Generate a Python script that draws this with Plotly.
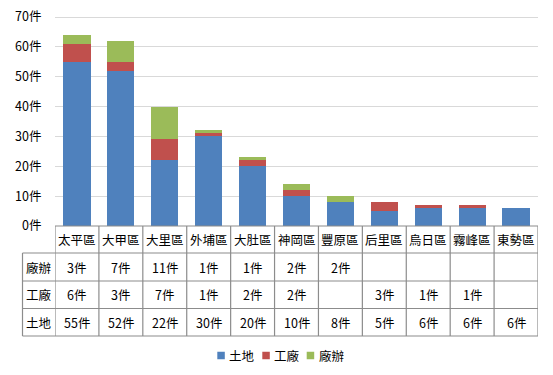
import plotly.graph_objects as go

categories = ["太平區", "大甲區", "大里區", "外埔區", "大肚區", "神岡區", "豐原區", "后里區", "烏日區", "霧峰區", "東勢區"]
land = [55, 52, 22, 30, 20, 10, 8, 5, 6, 6, 6]       # 土地
factory = [6, 3, 7, 1, 2, 2, 0, 3, 1, 1, 0]          # 工廠
office = [3, 7, 11, 1, 1, 2, 2, 0, 0, 0, 0]          # 廠辦
series_names = ["土地", "工廠", "廠辦"]
colors = ["#4F81BD", "#C0504D", "#9BBB59"]

FONT = "Noto Sans CJK TC, Microsoft JhengHei, sans-serif"
W, H = 553, 375
ML, MR, MT, MB = 55, 15, 16, 149
PW = W - ML - MR
PH = H - MT - MB
BASE = H - MB  # pixel y of zero line
YMAX = 70.35


def py(p):
    return (BASE - p) / PH


def px(p):
    return (p - ML) / PW


fig = go.Figure()
for name, vals, col in zip(series_names, [land, factory, office], colors):
    fig.add_trace(go.Bar(
        x=categories, y=vals, name=name, marker=dict(color=col, line=dict(width=0)),
        width=0.62, hoverinfo="x+y+name",
    ))

line_col = "#8C8C8C"
shapes = []
row_edges = [226, 253, 281, 308.5, 336]
left_edge = 22.5
# horizontal lines
shapes.append(dict(type="line", xref="paper", yref="paper", x0=0, x1=1,
                   y0=py(row_edges[0]), y1=py(row_edges[0]), line=dict(color=line_col, width=1.2)))
for r in row_edges[1:]:
    shapes.append(dict(type="line", xref="paper", yref="paper", x0=px(left_edge), x1=1,
                       y0=py(r), y1=py(r), line=dict(color=line_col, width=1.2)))
# vertical lines at category boundaries
n = len(categories)
for i in range(n + 1):
    shapes.append(dict(type="line", xref="x", yref="paper", x0=i - 0.5, x1=i - 0.5,
                       y0=py(row_edges[0]), y1=py(row_edges[-1]), line=dict(color=line_col, width=1.2)))
shapes.append(dict(type="line", xref="paper", yref="paper", x0=px(left_edge), x1=px(left_edge),
                   y0=py(row_edges[1]), y1=py(row_edges[-1]), line=dict(color=line_col, width=1.2)))

annotations = []
txt_font = dict(family=FONT, size=12.5, color="#000000")
row_centers = [(row_edges[i] + row_edges[i + 1]) / 2 for i in range(4)]
for c in categories:
    annotations.append(dict(x=c, xref="x", y=py(row_centers[0]), yref="paper", text=c,
                            showarrow=False, font=txt_font, xanchor="center", yanchor="middle"))
table_rows = [("廠辦", office), ("工廠", factory), ("土地", land)]
for ri, (lab, vals) in enumerate(table_rows):
    yc = py(row_centers[ri + 1])
    annotations.append(dict(x=px((left_edge + ML) / 2), xref="paper", y=yc, yref="paper", text=lab,
                            showarrow=False, font=txt_font, xanchor="center", yanchor="middle"))
    for c, v in zip(categories, vals):
        if v:
            annotations.append(dict(x=c, xref="x", y=yc, yref="paper", text=f"{v}件",
                                    showarrow=False, font=txt_font, xanchor="center", yanchor="middle"))

# legend (custom, to match compact spacing of the original)
leg_x0 = [217.3, 262.3, 306.7]
leg_y = 355.5
sq = 7.5
for name, col, lx in zip(series_names, colors, leg_x0):
    shapes.append(dict(type="rect", xref="paper", yref="paper", x0=px(lx), x1=px(lx + sq),
                       y0=py(leg_y + sq / 2), y1=py(leg_y - sq / 2),
                       fillcolor=col, line=dict(width=0)))
    annotations.append(dict(x=px(lx + sq + 2.5), xref="paper", y=py(leg_y), yref="paper", text=name,
                            showarrow=False, font=txt_font, xanchor="left", yanchor="middle"))

fig.update_layout(
    barmode="stack",
    width=W, height=H,
    margin=dict(l=ML, r=MR, t=MT, b=MB, autoexpand=False),
    paper_bgcolor="white", plot_bgcolor="white",
    font=dict(family=FONT, size=12.5, color="#000000"),
    shapes=shapes,
    annotations=annotations,
    showlegend=False,
    bargap=0.38,
)
fig.update_xaxes(range=[-0.5, n - 0.5], showticklabels=False, showgrid=False, zeroline=False,
                 showline=False, ticks="")
fig.update_yaxes(range=[0, YMAX], dtick=10, ticksuffix="件", showgrid=True, gridcolor="#D9D9D9",
                 gridwidth=1, zeroline=False, showline=False, ticks="outside", ticklen=10,
                 tickcolor="rgba(0,0,0,0)", tickfont=dict(family=FONT, size=12.5, color="#000000"))

fig.write_html("out.html", config={"displayModeBar": False},
               post_script="document.body.style.margin='0';document.body.style.overflow='hidden';")
